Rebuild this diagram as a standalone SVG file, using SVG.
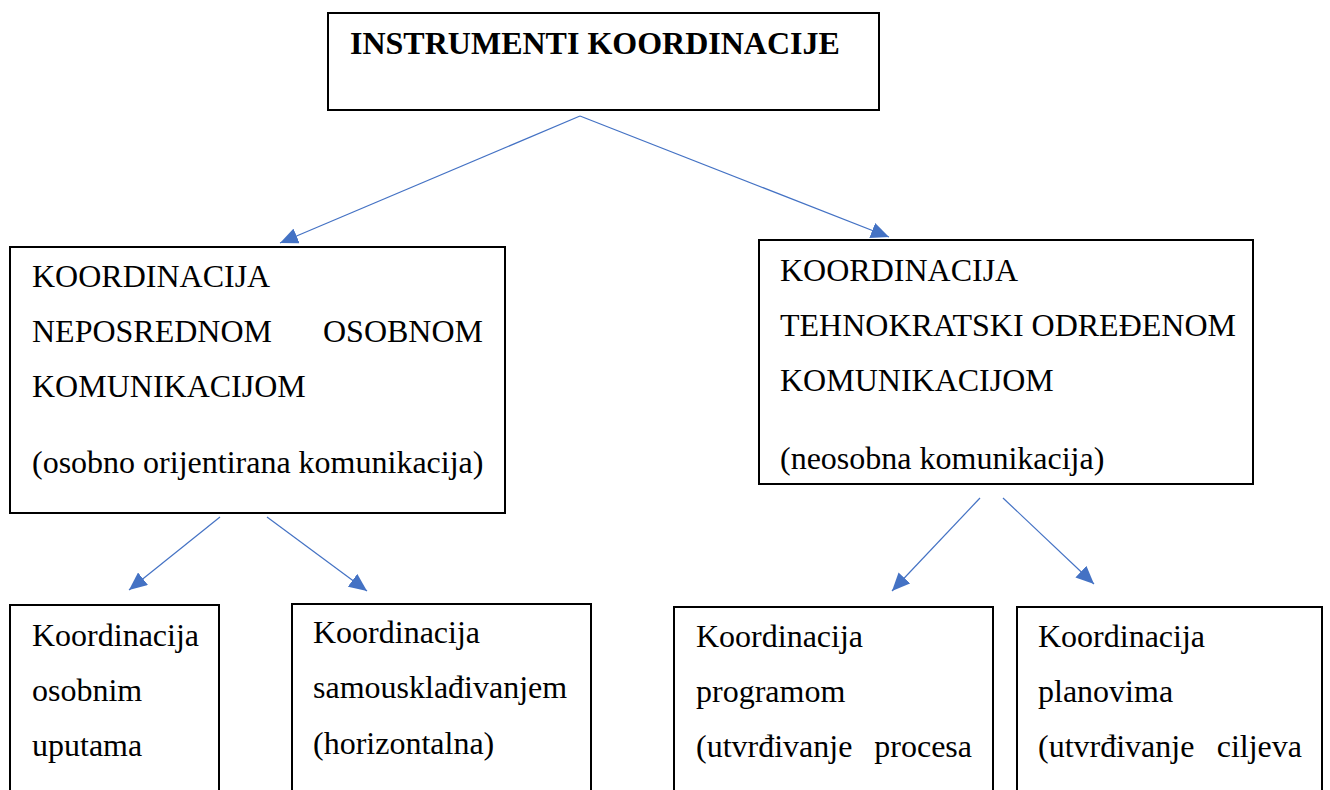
<svg xmlns="http://www.w3.org/2000/svg" width="1330" height="790" viewBox="0 0 1330 790">
<style>
.box{fill:#fff;stroke:#000;stroke-width:2}
.c{stroke:#4472C4;stroke-width:1.2;fill:none;marker-end:url(#ah)}
</style>
<defs>
<marker id="ah" markerUnits="userSpaceOnUse" markerWidth="18" markerHeight="16" viewBox="0 0 18 16" refX="18" refY="8" orient="auto">
<path d="M0,0 L18,8 L0,16 Z" fill="#4472C4"/>
</marker>
</defs>
<rect width="1330" height="790" fill="#fff"/>
<g id="connectors">
<line class="c" x1="580" y1="116" x2="280" y2="243"/>
<line class="c" x1="580" y1="116" x2="889" y2="237"/>
<line class="c" x1="220" y1="517" x2="129" y2="590"/>
<line class="c" x1="267" y1="517" x2="367" y2="591"/>
<line class="c" x1="980" y1="498" x2="892" y2="591"/>
<line class="c" x1="1003" y1="498" x2="1094" y2="584"/>
</g>
<g font-family="Liberation Serif" font-size="32" fill="#000">
<g id="root">
<rect class="box" x="328" y="13" width="551" height="97"/>
<text font-weight="bold" x="350" y="54">INSTRUMENTI KOORDINACIJE</text>
</g>
<g id="personal">
<rect class="box" x="10" y="247" width="495" height="266"/>
<text x="32" y="287">KOORDINACIJA</text>
<text x="32" y="342">NEPOSREDNOM</text>
<text x="483" y="342" text-anchor="end">OSOBNOM</text>
<text x="32" y="397">KOMUNIKACIJOM</text>
<text x="32" y="473">(osobno orijentirana komunikacija)</text>
</g>
<g id="impersonal">
<rect class="box" x="759" y="240" width="494" height="244"/>
<text x="780" y="281">KOORDINACIJA</text>
<text x="780" y="336">TEHNOKRATSKI ODREĐENOM</text>
<text x="780" y="391">KOMUNIKACIJOM</text>
<text x="780" y="469">(neosobna komunikacija)</text>
</g>
<g id="instructions">
<rect class="box" x="10" y="605" width="209" height="200"/>
<text x="32" y="646">Koordinacija</text>
<text x="32" y="701">osobnim</text>
<text x="32" y="756">uputama</text>
</g>
<g id="selfadjust">
<rect class="box" x="292" y="604" width="299" height="200"/>
<text x="313" y="643">Koordinacija</text>
<text x="313" y="698">samousklađivanjem</text>
<text x="313" y="754">(horizontalna)</text>
</g>
<g id="program">
<rect class="box" x="674" y="607" width="319" height="200"/>
<text x="696" y="647">Koordinacija</text>
<text x="696" y="702">programom</text>
<text x="696" y="757">(utvrđivanje</text>
<text x="972" y="757" text-anchor="end">procesa</text>
</g>
<g id="plans">
<rect class="box" x="1017" y="607" width="305" height="200"/>
<text x="1038" y="647">Koordinacija</text>
<text x="1038" y="702">planovima</text>
<text x="1038" y="757">(utvrđivanje</text>
<text x="1302" y="757" text-anchor="end">ciljeva</text>
</g>
</g>
</svg>
